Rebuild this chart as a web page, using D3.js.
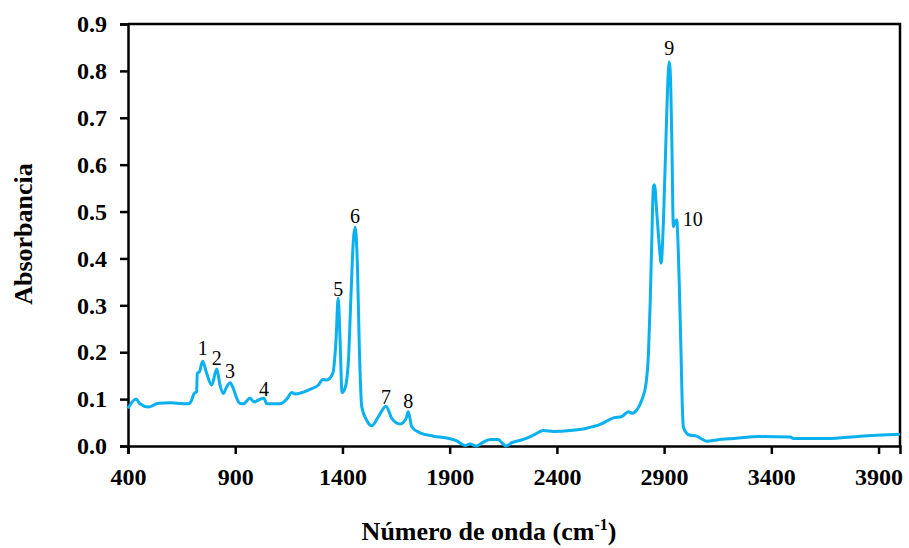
<!DOCTYPE html>
<html>
<head>
<meta charset="utf-8">
<script src="https://cdn.jsdelivr.net/npm/d3@7"></script>
<style>
  html, body { margin: 0; padding: 0; background: #fff; }
  svg { display: block; }
</style>
</head>
<body>
<svg id="chart" width="909" height="548"></svg>
<script>
// FTIR spectrum: wavenumber (cm-1) vs absorbance
const wavenumber = [
  400, 437, 456, 495, 541, 600, 658, 681, 697, 708, 720, 723, 733, 748, 767, 790,
  814, 829, 845, 857, 876, 891, 907, 922, 938, 969, 988, 1008, 1034, 1047, 1109, 1140,
  1164, 1179, 1249, 1288, 1308, 1327, 1355, 1370, 1380, 1389, 1398, 1412, 1428, 1439,
  1451, 1459, 1470, 1479, 1490, 1513, 1537, 1567, 1603, 1630, 1669, 1697, 1707, 1723,
  1762, 1824, 1886, 1933, 1972, 1995, 2026, 2049, 2088, 2127, 2143, 2163, 2190, 2244,
  2290, 2337, 2384, 2462, 2539, 2602, 2664, 2703, 2734, 2750, 2773, 2796, 2816, 2827,
  2835, 2843, 2850, 2855, 2866, 2878, 2886, 2897, 2909, 2920, 2924, 2931, 2937, 2943,
  2951, 2959, 2963, 2971, 2979, 2984, 2990, 3006, 3013, 3052, 3075, 3099, 3146, 3223,
  3348, 3488, 3503, 3659, 3815, 4000
];
const absorbance = [
  0.080, 0.100, 0.090, 0.083, 0.091, 0.092, 0.090, 0.090, 0.098, 0.112, 0.116, 0.155, 0.158, 0.181, 0.155, 0.130,
  0.164, 0.130, 0.112, 0.123, 0.135, 0.123, 0.102, 0.091, 0.090, 0.102, 0.094, 0.098, 0.102, 0.090, 0.090, 0.100,
  0.114, 0.111, 0.121, 0.130, 0.142, 0.141, 0.155, 0.226, 0.315, 0.226, 0.114, 0.123, 0.183, 0.311,
  0.439, 0.467, 0.382, 0.205, 0.084, 0.055, 0.043, 0.062, 0.085, 0.059, 0.047, 0.059, 0.073, 0.041,
  0.028, 0.021, 0.017, 0.011, 0.001, 0.004, 0.000, 0.006, 0.014, 0.014, 0.007, 0.000, 0.007, 0.014,
  0.023, 0.033, 0.031, 0.033, 0.038, 0.046, 0.060, 0.063, 0.073, 0.070, 0.077, 0.098, 0.134, 0.198,
  0.304, 0.446, 0.553, 0.557, 0.496, 0.425, 0.390, 0.482, 0.660, 0.802, 0.819, 0.766, 0.624, 0.468,
  0.478, 0.482, 0.454, 0.340, 0.198, 0.098, 0.040, 0.027, 0.024, 0.021, 0.015, 0.010, 0.013, 0.016,
  0.020, 0.019, 0.016, 0.016, 0.021, 0.025
];

// Numbered bands and the wavenumber of each band maximum
const peakLabels = ["1", "2", "3", "4", "5", "6", "7", "8", "9", "10"];
const peakWavenumbers = [748, 814, 876, 1034, 1380, 1459, 1603, 1707, 2924, 2959];

const xTicks = [400, 900, 1400, 1900, 2400, 2900, 3400, 3900];
const yTicks = [0, 0.1, 0.2, 0.3, 0.4, 0.5, 0.6, 0.7, 0.8, 0.9];

const margin = { left: 128, right: 9, top: 24, bottom: 102 };
const W = 909, H = 548;
const svg = d3.select("#chart");

const x = d3.scaleLinear().domain([400, 4000]).range([margin.left, W - margin.right]);
const y = d3.scaleLinear().domain([0, 0.9]).range([H - margin.bottom, margin.top]);

const serif = "'Liberation Serif', 'Times New Roman', serif";
const ink = "#000";
const lineColor = "#0bb0ee";

// Plot frame (top and right edges)
svg.append("path")
  .attr("d", `M${x(400)},${y(0.9)}H${x(4000)}V${y(0)}`)
  .attr("fill", "none").attr("stroke", ink).attr("stroke-width", 2.5);

// Axes
const xAxis = svg.append("g")
  .attr("transform", `translate(0,${y(0)})`)
  .call(d3.axisBottom(x).tickValues(xTicks).tickSize(8).tickPadding(14).tickFormat(d3.format("d")));
const yAxis = svg.append("g")
  .attr("transform", `translate(${x(400)},0)`)
  .call(d3.axisLeft(y).tickValues(yTicks).tickSize(8).tickPadding(13).tickFormat(d3.format(".1f")));

[xAxis, yAxis].forEach(g => {
  g.select(".domain").attr("stroke", ink).attr("stroke-width", 2.5);
  g.selectAll(".tick line").attr("stroke", ink).attr("stroke-width", 2.5);
  g.selectAll(".tick text")
    .attr("fill", ink)
    .style("font-family", serif)
    .style("font-weight", "bold")
    .style("font-size", "24px");
});

// Spectrum line
const pts = wavenumber.map((w, i) => [w, absorbance[i]]);
svg.append("path")
  .datum(pts)
  .attr("fill", "none")
  .attr("stroke", lineColor)
  .attr("stroke-width", 3)
  .attr("stroke-linejoin", "round")
  .attr("d", d3.line().x(d => x(d[0])).y(d => y(d[1])).curve(d3.curveMonotoneX));

// Band numbers above each maximum ("10" sits to the right of its shoulder)
const labelOffsets = [[0, -6], [0, -4], [0, -5], [0, -2], [0, -2], [0, -4], [0, -2], [0, -4], [0, -7], [6, 6]];
peakLabels.forEach((lab, i) => {
  const w = peakWavenumbers[i];
  const a = absorbance[wavenumber.indexOf(w)];
  const [dx, dy] = labelOffsets[i];
  svg.append("text")
    .attr("x", x(w) + dx)
    .attr("y", y(a) + dy)
    .attr("text-anchor", i === 9 ? "start" : "middle")
    .attr("fill", ink)
    .style("font-family", serif)
    .style("font-size", "20px")
    .text(lab);
});

// Axis titles
const xTitle = svg.append("text")
  .attr("x", 489)
  .attr("y", 540)
  .attr("text-anchor", "middle")
  .attr("fill", ink)
  .style("font-family", serif)
  .style("font-weight", "bold")
  .style("font-size", "26px");
xTitle.append("tspan").text("Número de onda (cm");
xTitle.append("tspan").attr("dy", -10).style("font-size", "16px").text("-1");
xTitle.append("tspan").attr("dy", 10).text(")");

svg.append("text")
  .attr("transform", "translate(32,234) rotate(-90)")
  .attr("text-anchor", "middle")
  .attr("fill", ink)
  .style("font-family", serif)
  .style("font-weight", "bold")
  .style("font-size", "26px")
  .text("Absorbancia");
</script>
</body>
</html>
